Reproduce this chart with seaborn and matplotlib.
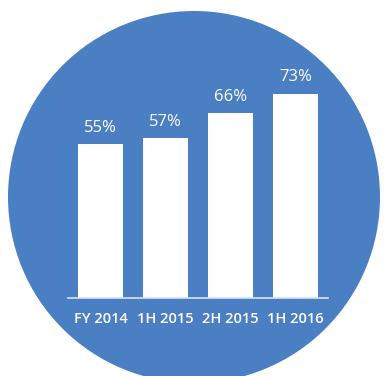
import matplotlib
matplotlib.use("Agg")
import matplotlib.pyplot as plt
from matplotlib.patches import Circle
import seaborn as sns
import pandas as pd

periods = ["FY 2014", "1H 2015", "2H 2015", "1H 2016"]
shares = [55, 57, 66, 73]
value_labels = ["55%", "57%", "66%", "73%"]

BLUE = "#4a7fc4"
W, H = 385, 376

sns.set_theme(style="white")
plt.rcParams["font.family"] = ["Open Sans", "DejaVu Sans"]

fig = plt.figure(figsize=(W / 100, H / 100), dpi=100)
fig.patch.set_facecolor("white")

# Round backdrop drawn in pixel space
bg = fig.add_axes([0, 0, 1, 1])
bg.set_xlim(0, W)
bg.set_ylim(H, 0)
bg.axis("off")
bg.add_patch(Circle((194, 197), 186, color=BLUE, lw=0))

# Bar panel
left, right, base, top = 68, 328, 298, 74
ax = fig.add_axes([left / W, 1 - base / H, (right - left) / W, (base - top) / H])
ax.set_facecolor("none")

df = pd.DataFrame({"period": periods, "share": shares})
sns.barplot(data=df, x="period", y="share", color="white", width=0.685,
            saturation=1, ax=ax, edgecolor="none")
ax.set_xlim(-0.5, 3.5)
ax.set_ylim(0, 80)

for i, (v, lab) in enumerate(zip(shares, value_labels)):
    ax.annotate(lab, (i, v), xytext=(0, 6), textcoords="offset points",
                ha="center", va="bottom", color="white", fontsize=12)

ax.set_xlabel("")
ax.set_ylabel("")
ax.set_yticks([])
ax.tick_params(axis="x", length=0, pad=10, labelsize=10.5, labelcolor="white")
for t in ax.get_xticklabels():
    t.set_fontweight("semibold")
for s in ["top", "right", "left"]:
    ax.spines[s].set_visible(False)
ax.spines["bottom"].set_color("#d6e4f4")
ax.spines["bottom"].set_linewidth(1.2)

fig.savefig("out.png", dpi=100, facecolor="white")
